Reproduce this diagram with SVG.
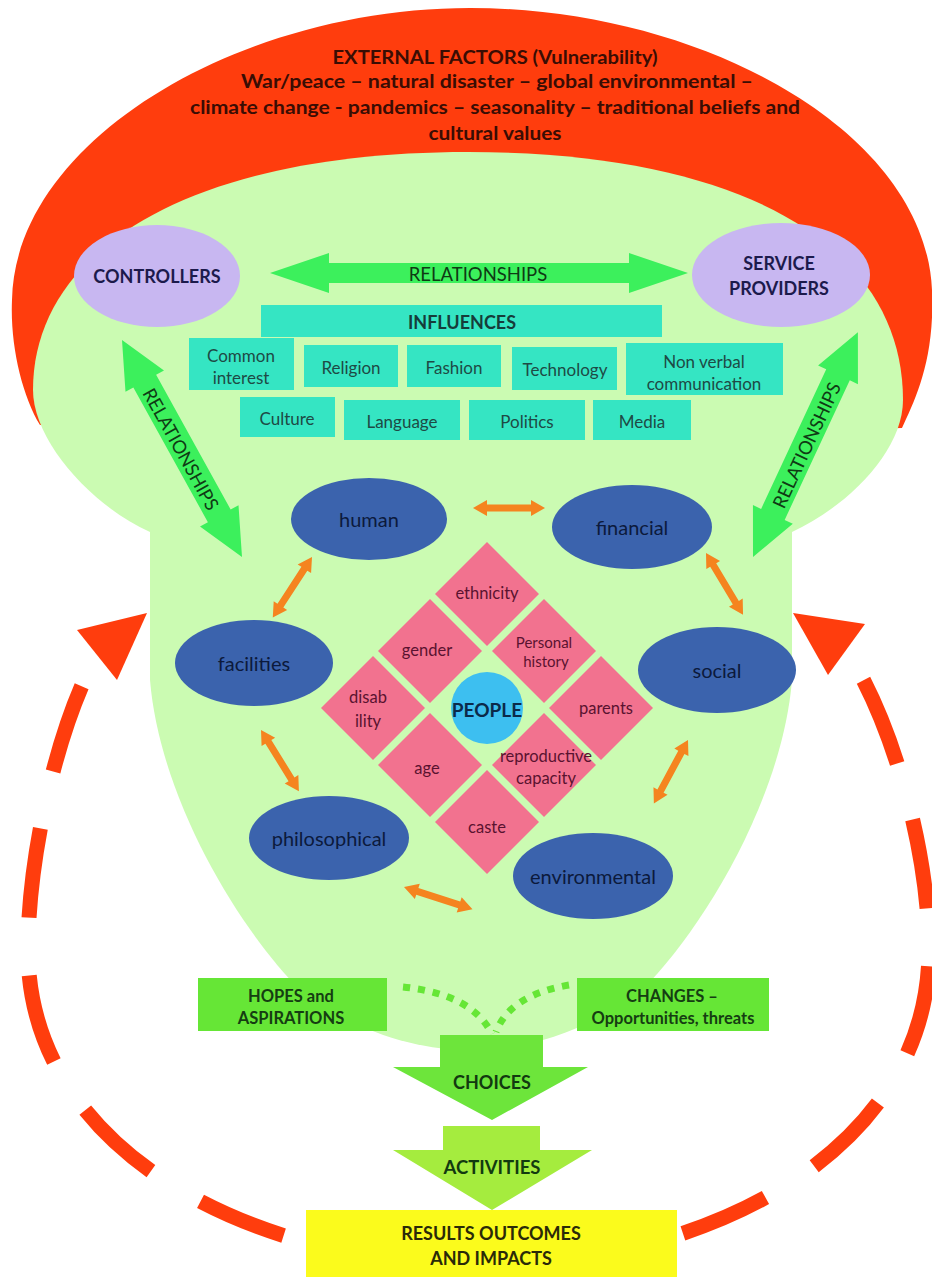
<svg xmlns="http://www.w3.org/2000/svg" width="932" height="1277" viewBox="0 0 932 1277">
<defs>
<style>
.t{font-family:Lato,"Liberation Sans","DejaVu Sans",sans-serif;text-anchor:middle;dominant-baseline:central}
.title{font-size:18.5px;font-weight:bold;fill:#3a0d04}
.lav{fill:#c8b7f1}
.lavt{font-size:18px;font-weight:bold;fill:#1c1a4c}
.inf{fill:#35e5c3}
.inft{font-size:17px;fill:#1e4a45}
.cap{fill:#3b63ad}
.capt{font-size:20px;fill:#0c1a3c}
.cell{fill:#f2728f}
.cellt{font-size:16.5px;fill:#5a1230}
.grn{fill:#3cf05c}
.rel{font-size:18.5px;fill:#0f3a14}
.orng{fill:#f5841f}
.ring{fill:none;stroke:#ff3d0d;stroke-width:15;stroke-dasharray:90 58;stroke-dashoffset:113}
.tri{fill:#ff3d0d}
.box{fill:#66e636}
.boxt{font-size:16.5px;font-weight:bold;fill:#153d12}
.lg{fill:#cbfbb2}
</style>
<polygon id="oa" class="orng" points="0,0 14,-8 14,-3.5 58,-3.5 58,-8 72,0 58,8 58,3.5 14,3.5 14,8"/>
<polygon id="cs" class="cell" points="0,-52 52,0 0,52 -52,0"/>
</defs>
<rect width="932" height="1277" fill="#ffffff"/>

<g id="external-factors">
<path fill="#ff3d0d" d="M40,425 C22,395 10,345 12,300 C15,140 240,8 470,8 C700,8 925,130 932,290 C935,360 915,400 902,428 L470,440 Z"/>
<text class="t title" x="495" y="57" textLength="325" lengthAdjust="spacingAndGlyphs">EXTERNAL FACTORS (Vulnerability)</text>
<text class="t title" x="497" y="81" textLength="512" lengthAdjust="spacingAndGlyphs">War/peace – natural disaster – global environmental –</text>
<text class="t title" x="495" y="107" textLength="610" lengthAdjust="spacingAndGlyphs">climate change - pandemics – seasonality – traditional beliefs and</text>
<text class="t title" x="495" y="133" textLength="133" lengthAdjust="spacingAndGlyphs">cultural values</text>
</g>

<g id="livelihood-area">
<path class="lg" d="M33,390 C33,250 190,152 468,152 C750,152 903,250 903,400 C903,450 850,505 792,532 L150,532 C90,505 33,440 33,390 Z"/>
<path class="lg" d="M150,520 L150,680 C160,800 240,930 300,990 C360,1035 420,1050 471,1050 C522,1050 582,1035 642,990 C702,930 782,800 792,680 L792,520 Z"/>
</g>

<g id="feedback-loop">
<path class="ring" d="M97,655 C60,720 28,850 28,950 C28,1150 250,1265 480,1265"/>
<path class="ring" d="M846,650 C892,720 929,850 929,950 C929,1150 710,1265 480,1265"/>
<polygon class="tri" points="77,630 147,613 117,680"/>
<polygon class="tri" points="793,613 865,624 828,675"/>
</g>

<g id="controllers">
<ellipse class="lav" cx="157" cy="276" rx="83" ry="51"/>
<text class="t lavt" x="157" y="276">CONTROLLERS</text>
</g>
<g id="service-providers">
<ellipse class="lav" cx="781" cy="275" rx="89" ry="52"/>
<text class="t lavt" x="779" y="263">SERVICE</text>
<text class="t lavt" x="779" y="288">PROVIDERS</text>
</g>

<g id="influences">
<rect class="inf" x="261" y="305" width="401" height="32"/>
<text class="t" x="462" y="322" style="font-size:18px;font-weight:bold;fill:#163c3a">INFLUENCES</text>
</g>
<g id="common-interest"><rect class="inf" x="189" y="338" width="105" height="52"/><text class="t inft" x="241" y="355">Common</text><text class="t inft" x="241" y="377">interest</text></g>
<g id="religion"><rect class="inf" x="304" y="345" width="94" height="42"/><text class="t inft" x="351" y="367">Religion</text></g>
<g id="fashion"><rect class="inf" x="407" y="345" width="94" height="42"/><text class="t inft" x="454" y="367">Fashion</text></g>
<g id="technology"><rect class="inf" x="512" y="347" width="105" height="43"/><text class="t inft" x="565" y="369">Technology</text></g>
<g id="non-verbal"><rect class="inf" x="626" y="343" width="157" height="52"/><text class="t inft" x="704" y="361">Non verbal</text><text class="t inft" x="704" y="383">communication</text></g>
<g id="culture"><rect class="inf" x="240" y="397" width="95" height="40"/><text class="t inft" x="287" y="418">Culture</text></g>
<g id="language"><rect class="inf" x="344" y="400" width="116" height="40"/><text class="t inft" x="402" y="421">Language</text></g>
<g id="politics"><rect class="inf" x="469" y="400" width="116" height="40"/><text class="t inft" x="527" y="421">Politics</text></g>
<g id="media"><rect class="inf" x="593" y="400" width="98" height="40"/><text class="t inft" x="642" y="421">Media</text></g>

<g id="human"><ellipse class="cap" cx="369" cy="519" rx="78" ry="41"/><text class="t capt" x="369" y="519">human</text></g>
<g id="financial"><ellipse class="cap" cx="632" cy="527" rx="80" ry="42"/><text class="t capt" x="632" y="527">financial</text></g>
<g id="facilities"><ellipse class="cap" cx="254" cy="663" rx="79" ry="43"/><text class="t capt" x="254" y="663">facilities</text></g>
<g id="social"><ellipse class="cap" cx="717" cy="670" rx="79" ry="43"/><text class="t capt" x="717" y="670">social</text></g>
<g id="philosophical"><ellipse class="cap" cx="329" cy="838" rx="80" ry="42"/><text class="t capt" x="329" y="838">philosophical</text></g>
<g id="environmental"><ellipse class="cap" cx="593" cy="876" rx="80" ry="43"/><text class="t capt" x="593" y="876">environmental</text></g>

<g id="ethnicity"><use href="#cs" x="487" y="594"/><text class="t cellt" x="487" y="593">ethnicity</text></g>
<g id="gender"><use href="#cs" x="430" y="651"/><text class="t cellt" x="427" y="650">gender</text></g>
<g id="personal-history"><use href="#cs" x="544" y="651"/><text class="t cellt" x="544" y="642" style="font-size:15px">Personal</text><text class="t cellt" x="546" y="661" style="font-size:15px">history</text></g>
<g id="disability"><use href="#cs" x="373" y="708"/><text class="t cellt" x="368" y="697">disab</text><text class="t cellt" x="368" y="721">ility</text></g>
<g id="parents"><use href="#cs" x="601" y="708"/><text class="t cellt" x="606" y="708">parents</text></g>
<g id="age"><use href="#cs" x="430" y="765"/><text class="t cellt" x="427" y="768">age</text></g>
<g id="reproductive-capacity"><use href="#cs" x="544" y="765"/><text class="t cellt" x="546" y="756">reproductive</text><text class="t cellt" x="546" y="778">capacity</text></g>
<g id="caste"><use href="#cs" x="487" y="822"/><text class="t cellt" x="487" y="827">caste</text></g>
<g id="people"><circle cx="487" cy="708" r="36" fill="#3dbff0"/><text class="t" x="487" y="709" style="font-size:19px;font-weight:bold;fill:#0b2a4a">PEOPLE</text></g>

<g id="connectors">
<g id="rel-top">
<polygon class="grn" points="270,273 329,253 329,263 629,263 629,253 688,273 629,293 629,283 329,283 329,293"/>
<text class="t rel" x="478" y="274">RELATIONSHIPS</text>
</g>
<g id="rel-left" transform="translate(122,340) rotate(61.06)">
<polygon class="grn" points="0,0 47,-22 47,-13 201,-13 201,-22 248,0 201,22 201,13 47,13 47,22"/>
<text class="t rel" x="124" y="1" textLength="136" lengthAdjust="spacingAndGlyphs">RELATIONSHIPS</text>
</g>
<g id="rel-right" transform="translate(753,557) rotate(-64.98)">
<polygon class="grn" points="0,0 47,-22 47,-13 201,-13 201,-22 248,0 201,22 201,13 47,13 47,22"/>
<text class="t rel" x="124" y="1" textLength="136" lengthAdjust="spacingAndGlyphs">RELATIONSHIPS</text>
</g>
<use href="#oa" transform="translate(473,508)"/>
<use href="#oa" transform="translate(312,557) rotate(123)"/>
<use href="#oa" transform="translate(706,553) rotate(59.04)"/>
<use href="#oa" transform="translate(261,730) rotate(58.24)"/>
<use href="#oa" transform="translate(688,740) rotate(118.3)"/>
<use href="#oa" transform="translate(404,887) rotate(17.95)"/>
<path d="M403,987 Q472,994 492,1034" fill="none" stroke="#66e636" stroke-width="7" stroke-dasharray="7 8"/>
<path d="M569,985 Q510,995 496,1032" fill="none" stroke="#66e636" stroke-width="7" stroke-dasharray="7 8"/>
</g>

<g id="hopes">
<rect class="box" x="198" y="978" width="189" height="53"/>
<text class="t boxt" x="291" y="996">HOPES and</text>
<text class="t boxt" x="291" y="1018">ASPIRATIONS</text>
</g>
<g id="changes">
<rect class="box" x="577" y="978" width="192" height="53"/>
<text class="t boxt" x="672" y="996">CHANGES –</text>
<text class="t boxt" x="673" y="1018">Opportunities, threats</text>
</g>
<g id="choices">
<polygon fill="#6de53b" points="440,1035 543,1035 543,1067 588,1067 492,1120 393,1067 440,1067"/>
<text class="t" x="492" y="1082" style="font-size:18px;font-weight:bold;fill:#123a10">CHOICES</text>
</g>
<g id="activities">
<polygon fill="#a5ec3e" points="443,1126 540,1126 540,1150 592,1150 492,1210 393,1150 443,1150"/>
<text class="t" x="492" y="1167" style="font-size:18.5px;font-weight:bold;fill:#123a10">ACTIVITIES</text>
</g>
<g id="results">
<rect x="306" y="1210" width="371" height="67" fill="#fbfb1c"/>
<text class="t" x="491" y="1233" style="font-size:18px;font-weight:bold;fill:#2a2a08">RESULTS OUTCOMES</text>
<text class="t" x="491" y="1258" style="font-size:18px;font-weight:bold;fill:#2a2a08">AND IMPACTS</text>
</g>
</svg>
